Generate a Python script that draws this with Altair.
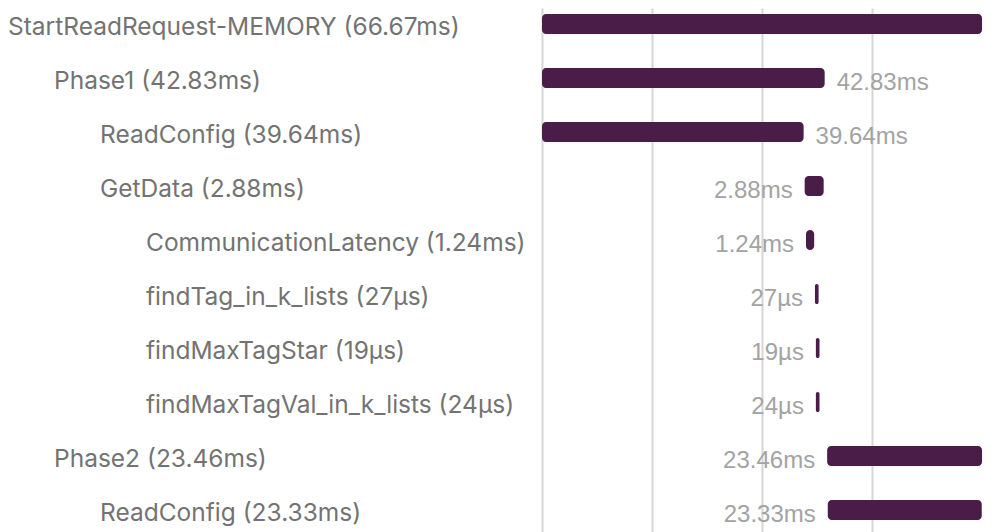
import altair as alt
import pandas as pd

names = ["StartReadRequest-MEMORY", "Phase1", "ReadConfig", "GetData",
         "CommunicationLatency", "findTag_in_k_lists", "findMaxTagStar",
         "findMaxTagVal_in_k_lists", "Phase2", "ReadConfig"]
depths = [0, 1, 2, 2, 3, 3, 3, 3, 1, 2]
starts_ms = [0.0, 0.0, 0.0, 39.8, 40.0, 41.36, 41.5, 41.5, 43.21, 43.3]
durations_ms = [66.67, 42.83, 39.64, 2.88, 1.24, 0.027, 0.019, 0.024, 23.46, 23.33]
duration_labels = ["66.67ms", "42.83ms", "39.64ms", "2.88ms", "1.24ms",
                   "27µs", "19µs", "24µs", "23.46ms", "23.33ms"]
grid_values = [0.0, 16.6675, 33.335, 50.0025]

df = pd.DataFrame({
    "row": list(range(len(names))),
    "name": names,
    "depth": depths,
    "start": starts_ms,
    "dur": durations_ms,
    "dlabel": duration_labels,
})
df["label"] = df["name"] + " (" + df["dlabel"] + ")"

TOTAL = 66.67
H = 524
STEP = 54
TOP = 16
y_enc = alt.Y("row:Q",
              scale=alt.Scale(domain=[-TOP / STEP, (H - TOP) / STEP], reverse=True,
                              padding=0, nice=False, zero=False),
              axis=None)

left = alt.Chart(df).mark_text(
    align="left", baseline="middle", dy=4, font="Inter", fontSize=24.5, color="#737373"
).encode(
    x=alt.X("depth:Q", scale=alt.Scale(domain=[0, 3], range=[0, 138]), axis=None),
    y=y_enc,
    text="label:N",
).properties(width=534, height=H)

base = alt.Chart(df).transform_calculate(
    end="datum.start + datum.dur",
    end_disp="max(datum.start + datum.dur, datum.start + 0.55)",
)

x_scale = alt.Scale(domain=[0, TOTAL], nice=False, zero=False, padding=0)

bars = base.mark_bar(color="#4a1c48", cornerRadius=4, size=20).encode(
    x=alt.X("start:Q", scale=x_scale,
            axis=alt.Axis(values=grid_values, grid=True, labels=False, ticks=False,
                          domain=False, title=None, gridColor="#d6d6d6", gridWidth=2)),
    x2="end_disp:Q",
    y=y_enc,
)

right_text = base.transform_filter("datum.start == 0 && datum.dur < 60").mark_text(
    align="left", baseline="middle", dx=12, dy=5, font="Liberation Sans",
    fontSize=24, color="#a3a3a3"
).encode(x="end:Q", y=y_enc, text="dlabel:N")

left_text = base.transform_filter("datum.start > 0").mark_text(
    align="right", baseline="middle", dx=-12, dy=5, font="Liberation Sans",
    fontSize=24, color="#a3a3a3"
).encode(x="start:Q", y=y_enc, text="dlabel:N")

right = alt.layer(bars, right_text, left_text).properties(width=440, height=H)

chart = alt.hconcat(left, right, spacing=0).properties(
    padding=0, background="white"
).configure_view(stroke=None)

chart.save("out.html", embed_options={"renderer": "svg", "actions": False})
